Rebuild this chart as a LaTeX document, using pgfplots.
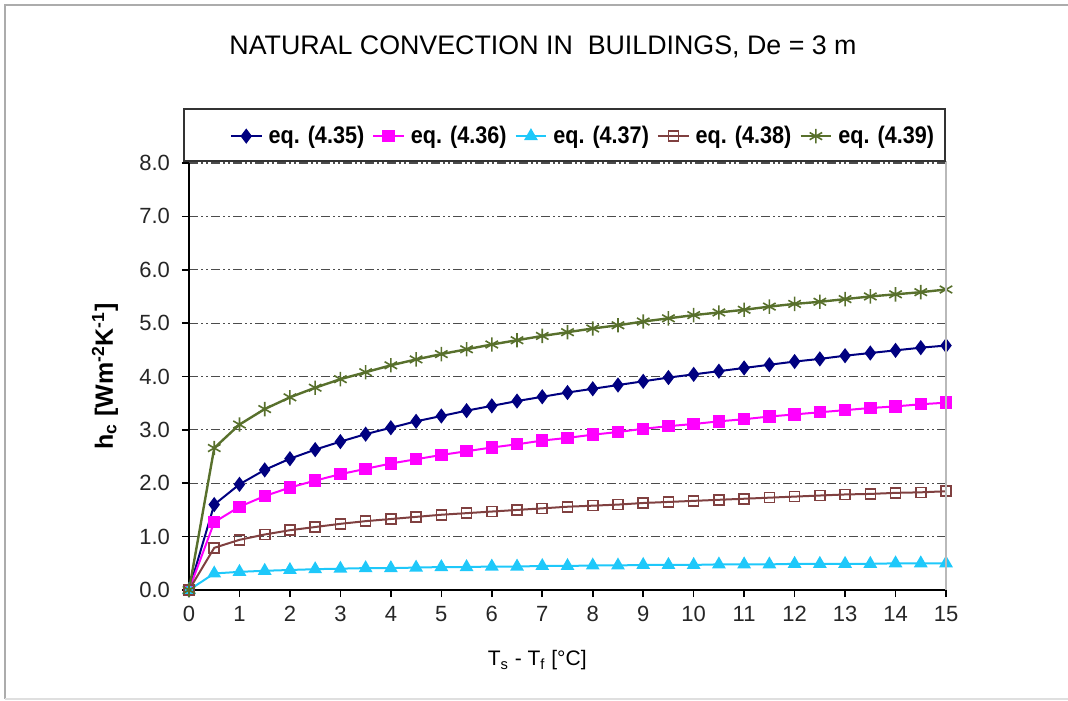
\documentclass[border=0pt]{standalone}
\usepackage{fontspec}
\setmainfont{Liberation Sans}
\newfontfamily\legfont{Liberation Sans}[FakeStretch=0.9]
\usepackage{pgfplots}
\usepackage{pgfplotstable}
\pgfplotsset{compat=1.18}

\definecolor{cNavy}{RGB}{0,0,128}
\definecolor{cMag}{RGB}{255,0,255}
\definecolor{cCyan}{RGB}{30,200,250}
\definecolor{cBrown}{RGB}{128,64,64}
\definecolor{cGreen}{RGB}{88,112,44}

\pgfplotstableread{
x    a     b     c     d     e
0    0     0     0     0     0
0.5  1.60  1.27  0.31  0.79  2.66
1    1.98  1.56  0.34  0.94  3.10
1.5  2.25  1.76  0.36  1.04  3.39
2    2.46  1.92  0.375 1.12  3.61
2.5  2.63  2.05  0.39  1.18  3.79
3    2.78  2.17  0.40  1.24  3.95
3.5  2.92  2.27  0.41  1.29  4.08
4    3.04  2.37  0.41  1.33  4.21
4.5  3.16  2.45  0.42  1.37  4.32
5    3.26  2.53  0.43  1.41  4.42
5.5  3.36  2.60  0.43  1.44  4.51
6    3.45  2.67  0.44  1.47  4.60
6.5  3.54  2.73  0.44  1.50  4.68
7    3.62  2.80  0.45  1.53  4.76
7.5  3.70  2.85  0.45  1.56  4.83
8    3.77  2.91  0.46  1.58  4.90
8.5  3.84  2.96  0.46  1.60  4.96
9    3.91  3.02  0.47  1.63  5.03
9.5  3.98  3.07  0.47  1.65  5.09
10   4.04  3.11  0.47  1.67  5.15
10.5 4.10  3.16  0.48  1.69  5.20
11   4.16  3.20  0.48  1.71  5.25
11.5 4.22  3.25  0.48  1.73  5.31
12   4.28  3.29  0.49  1.75  5.36
12.5 4.33  3.33  0.49  1.77  5.40
13   4.39  3.37  0.49  1.79  5.45
13.5 4.44  3.41  0.49  1.80  5.50
14   4.49  3.44  0.50  1.82  5.54
14.5 4.54  3.48  0.50  1.83  5.58
15   4.58  3.51  0.50  1.85  5.63
}\datatable

\begin{document}
\begin{tikzpicture}
\useasboundingbox (-94.5pt,-55pt) rectangle (439.5pt,295pt);
% outer frame
\draw[gray!65, line width=1.3pt] (-92pt,-54.5pt) -- (-92pt,292.5pt) -- (439.5pt,292.5pt);
\draw[gray!25, line width=0.8pt] (-92pt,-54.6pt) -- (439.5pt,-54.6pt);
\node[font=\fontsize{13.4}{15}\selectfont] at (177pt,271.5pt) {NATURAL CONVECTION IN\ \ BUILDINGS, De = 3 m};
\begin{axis}[
  at={(0,0)}, anchor=south west,
  scale only axis,
  width=378.5pt, height=213.5pt,
  xmin=0, xmax=15, ymin=0, ymax=8,
  xtick={0,1,...,15},
  ytick={0,1,...,8},
  axis lines=left,
  axis line style={-, black, line width=0.8pt},
  tick align=outside,
  major tick length=3.5pt,
  tick style={black, line width=0.8pt},
  /pgf/number format/assume math mode=true,
  yticklabel style={/pgf/number format/.cd, fixed, fixed zerofill, precision=1, /tikz/.cd, xshift=-2.5pt},
  ticklabel style={font=\fontsize{11}{12}\selectfont, text=black!85},
  xticklabel style={yshift=-1pt},
  ymajorgrids,
  major grid style={black!70, line width=0.6pt, dash pattern=on 4.5pt off 1.5pt on 1pt off 1.5pt on 1pt off 1.5pt},
  clip=false,
  xlabel={T\textsubscript{s} - T\textsubscript{f} [°C]},
  xlabel style={font=\fontsize{10.5}{12}\selectfont, at={(axis description cs:0.46,-0.165)}, anchor=center},
  ylabel={h\textsubscript{c} [Wm\textsuperscript{-2}K\textsuperscript{-1}]},
  ylabel style={font=\fontsize{12.5}{14}\selectfont\bfseries, at={(axis description cs:-0.111,0.5)}, anchor=center},
  legend columns=5,
  legend image code/.code={\draw[mark repeat=2, mark phase=2] plot coordinates {(0cm,0cm) (0.27cm,0cm) (0.54cm,0cm)};},
  legend style={at={(axis description cs:0.998,1.063)}, anchor=east, draw=none, fill=none,
    font=\legfont\fontsize{12}{13}\selectfont\bfseries, column sep=2pt,
    /tikz/every odd column/.append style={column sep=1pt},
    nodes={inner xsep=2pt}},
  legend cell align=left,
  every axis plot/.append style={line width=1pt},
]
\addplot[cNavy, mark=diamond*, mark size=3pt, mark options={solid}] table[x=x,y=a] {\datatable};
\addlegendentry{eq. (4.35)}
\addplot[cMag, mark=square*, mark size=2.6pt] table[x=x,y=b] {\datatable};
\addlegendentry{eq. (4.36)}
\addplot[cCyan, mark=triangle*, mark size=3pt] table[x=x,y=c] {\datatable};
\addlegendentry{eq. (4.37)}
\addplot[cBrown, mark=square, mark size=2.5pt, mark options={line width=0.8pt}] table[x=x,y=d] {\datatable};
\addlegendentry{eq. (4.38)}
\addplot[cGreen, line width=1.2pt, mark=asterisk, mark size=3.6pt, mark options={line width=0.8pt}] table[x=x,y=e] {\datatable};
\addlegendentry{eq. (4.39)}
\end{axis}
% right border of plot area
\draw[gray!55, line width=1.3pt] (378.5pt,0pt) -- (378.5pt,214.5pt);
% legend box
\draw[black!80, line width=0.8pt] (-2.5pt,214.5pt) rectangle (378pt,240.5pt);
\end{tikzpicture}
\end{document}
